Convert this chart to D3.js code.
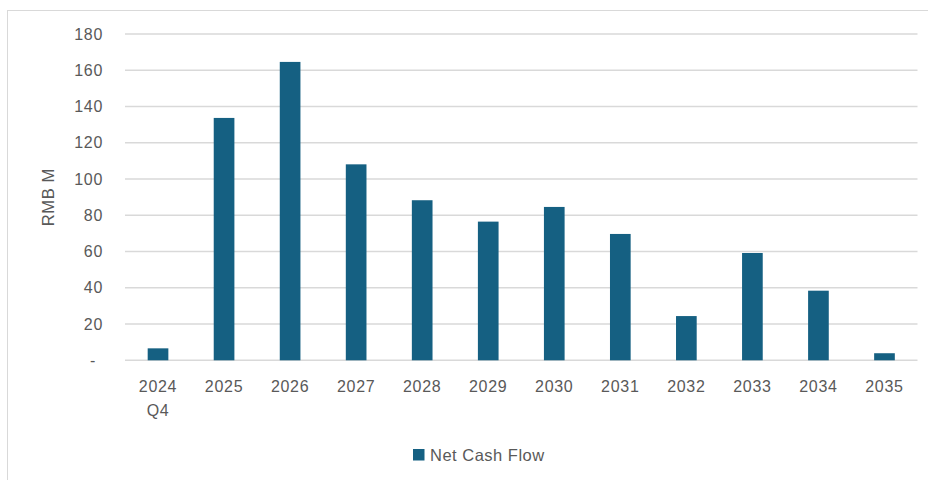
<!DOCTYPE html>
<html>
<head>
<meta charset="utf-8">
<script src="https://cdn.jsdelivr.net/npm/d3@7"></script>
<style>
  html, body { margin: 0; padding: 0; background: #fff; }
  svg text { font-family: "Liberation Sans", Arial, sans-serif; fill: #595959; }
</style>
</head>
<body>
<svg id="chart" width="928" height="480"></svg>
<script>
// Net cash flow by period (RMB M)
const categories = ["2024 Q4", "2025", "2026", "2027", "2028", "2029", "2030", "2031", "2032", "2033", "2034", "2035"];
const netCashFlow = [6.6, 133.7, 164.6, 108.1, 88.3, 76.5, 84.6, 69.7, 24.4, 59.2, 38.4, 3.9];
const yTicks = [0, 20, 40, 60, 80, 100, 120, 140, 160, 180];
const seriesName = "Net Cash Flow";
const yTitle = "RMB M";

const svg = d3.select("#chart");
const W = 928, H = 480;
const plot = { left: 125, right: 917.5, top: 34, bottom: 360.3 };
const barColor = "#156082";
const gridColor = "#d9d9d9";

// chart frame
svg.append("rect")
  .attr("x", 7.5).attr("y", 10.5)
  .attr("width", W + 10).attr("height", H + 10)
  .attr("fill", "#fff").attr("stroke", gridColor).attr("stroke-width", 1);

const x = d3.scaleBand()
  .domain(categories)
  .range([plot.left, plot.right])
  .paddingInner(0.687)
  .paddingOuter(0.3435);

const y = d3.scaleLinear()
  .domain([0, 180])
  .range([plot.bottom, plot.top]);

// horizontal gridlines
svg.append("g")
  .selectAll("line")
  .data(yTicks)
  .join("line")
  .attr("x1", plot.left).attr("x2", plot.right)
  .attr("y1", d => y(d)).attr("y2", d => y(d))
  .attr("stroke", gridColor).attr("stroke-width", 1.4);

// y axis labels
const yAxis = d3.axisLeft(y)
  .tickValues(yTicks)
  .tickSize(0)
  .tickPadding(0)
  .tickFormat(d => d === 0 ? "-" : d3.format("d")(d));
const yg = svg.append("g")
  .attr("transform", `translate(${plot.left - 22},0)`)
  .call(yAxis);
yg.select(".domain").remove();
yg.selectAll("text")
  .style("font-size", "16px")
  .style("letter-spacing", "0.7px")
  .attr("dx", d => d === 0 ? -7 : 0);

// bars
svg.append("g")
  .selectAll("rect")
  .data(netCashFlow)
  .join("rect")
  .attr("x", (d, i) => x(categories[i]))
  .attr("width", x.bandwidth())
  .attr("y", d => y(d))
  .attr("height", d => y(0) - y(d))
  .attr("fill", barColor);

// x axis labels (wrapped onto two lines where needed)
const xAxis = d3.axisBottom(x).tickSize(0).tickPadding(0).tickFormat("");
const xg = svg.append("g")
  .attr("transform", `translate(0,${plot.bottom})`)
  .call(xAxis);
xg.select(".domain").remove();
xg.selectAll(".tick").each(function(d) {
  const parts = d.split(" ");
  const t = d3.select(this).append("text")
    .attr("text-anchor", "middle")
    .style("font-size", "16px")
    .style("letter-spacing", "0.7px");
  parts.forEach((p, k) => {
    t.append("tspan")
      .attr("x", 0)
      .attr("y", 31.5 + k * 24)
      .text(p);
  });
});

// y axis title
svg.append("text")
  .attr("transform", `translate(54,${(plot.top + plot.bottom) / 2}) rotate(-90)`)
  .attr("text-anchor", "middle")
  .style("font-size", "16.5px")
  .style("letter-spacing", "0.6px")
  .text(yTitle);

// legend
const lg = svg.append("g").attr("transform", "translate(413,449)");
lg.append("rect").attr("width", 11.5).attr("height", 11.5).attr("fill", barColor);
lg.append("text")
  .attr("x", 17).attr("y", 11.5)
  .style("font-size", "16.5px")
  .style("letter-spacing", "0.5px")
  .text(seriesName);
</script>
</body>
</html>
